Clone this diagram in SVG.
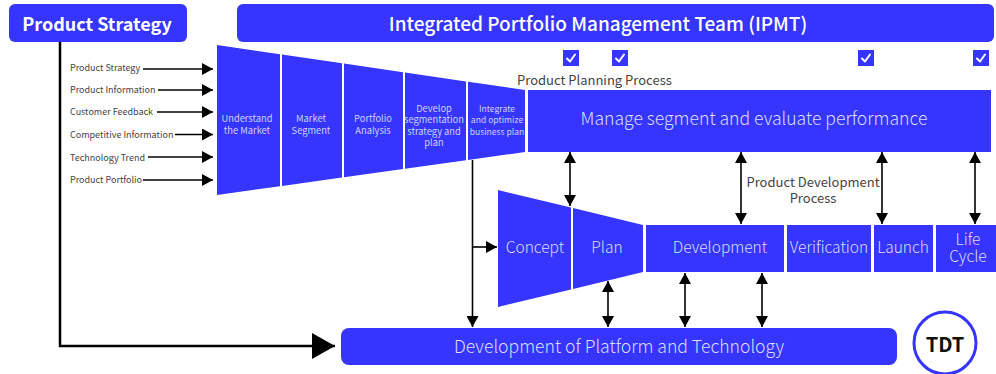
<svg xmlns="http://www.w3.org/2000/svg" width="996" height="374" viewBox="0 0 996 374">
<style>
text{font-family:'Noto Sans CJK SC','Noto Sans',sans-serif;}
.blue{fill:#3535fd;}
.title{fill:#ffffff;font-size:18px;font-weight:700;text-anchor:middle;dominant-baseline:central;}
.in{fill:#444;font-size:9px;dominant-baseline:central;}
.seg{fill:#cfcfff;font-size:9.3px;text-anchor:middle;dominant-baseline:central;}
.big{fill:#dcdcff;font-size:17.6px;font-weight:300;text-anchor:middle;dominant-baseline:central;}
.mid{fill:#dcdcff;font-size:15.5px;font-weight:300;text-anchor:middle;dominant-baseline:central;}
.lbl{fill:#444;font-size:13px;dominant-baseline:central;}
.ln{stroke:#000;stroke-width:1.6;fill:none;}
.ln2{stroke:#000;stroke-width:2.5;fill:none;}
.chk{stroke:#fff;stroke-width:2;fill:none;stroke-linecap:round;stroke-linejoin:round;}
</style>
<defs>
<marker id="ah" markerUnits="userSpaceOnUse" markerWidth="12" markerHeight="12" refX="11" refY="6" orient="auto-start-reverse"><path d="M0,0 L11,6 L0,12 z" fill="#000"/></marker>
<marker id="big" markerUnits="userSpaceOnUse" markerWidth="24" markerHeight="26" refX="23" refY="13" orient="auto"><path d="M0,0 L23,13 L0,26 z" fill="#000"/></marker>
</defs>

<g id="product-strategy">
<rect class="blue" x="9" y="4" width="178" height="38" rx="6"/>
<text class="title" x="97" y="22.5">Product Strategy</text>
</g>

<g id="ipmt">
<rect class="blue" x="237" y="4" width="757" height="38" rx="6"/>
<text class="title" x="598" y="22.5" style="font-weight:500;font-size:19px">Integrated Portfolio Management Team (IPMT)</text>
</g>

<g id="inputs">
<text class="in" x="70" y="67.5">Product Strategy</text>
<text class="in" x="70" y="89.5">Product Information</text>
<text class="in" x="70" y="111.5">Customer Feedback</text>
<text class="in" x="70" y="134">Competitive Information</text>
<text class="in" x="70" y="157">Technology Trend</text>
<text class="in" x="70" y="179.5">Product Portfolio</text>
</g>

<g id="planning-funnel">
<polygon class="blue" points="217,45 280,54.2 280,186.2 217,195"/>
<polygon class="blue" points="282,54.5 342,63.3 342,177.5 282,185.9"/>
<polygon class="blue" points="344,63.6 403,72.2 403,169 344,177.3"/>
<polygon class="blue" points="405,72.5 466,81.4 466,160.2 405,168.8"/>
<polygon class="blue" points="468,81.7 525,90 525,152 468,160"/>
<text class="seg" x="247" y="118">Understand</text>
<text class="seg" x="247" y="129.5">the Market</text>
<text class="seg" x="311" y="118">Market</text>
<text class="seg" x="311" y="129.5">Segment</text>
<text class="seg" x="373" y="118">Portfolio</text>
<text class="seg" x="373" y="129.5">Analysis</text>
<text class="seg" x="434" y="107.7">Develop</text>
<text class="seg" x="434" y="119.2">segmentation</text>
<text class="seg" x="434" y="130.7">strategy and</text>
<text class="seg" x="434" y="142">plan</text>
<text class="seg" x="497" y="107.7" style="font-size:8.6px">Integrate</text>
<text class="seg" x="497" y="119.2" style="font-size:8.6px">and optimize</text>
<text class="seg" x="497" y="130.5" style="font-size:8.6px">business plan</text>
</g>

<g id="manage-segment">
<rect class="blue" x="528" y="90" width="463" height="62"/>
<text class="big" x="754" y="117.5">Manage segment and evaluate performance</text>
</g>

<g id="checkmarks">
<rect class="blue" x="563" y="50" width="16" height="16"/>
<polyline class="chk" points="567,58.5 570,61.5 575,54.5"/>
<rect class="blue" x="612" y="50" width="16" height="16"/>
<polyline class="chk" points="616,58.5 619,61.5 624,54.5"/>
<rect class="blue" x="858" y="50" width="16" height="16"/>
<polyline class="chk" points="862,58.5 865,61.5 870,54.5"/>
<rect class="blue" x="973" y="50" width="16" height="16"/>
<polyline class="chk" points="977,58.5 980,61.5 985,54.5"/>
</g>

<g id="labels">
<text class="lbl" x="517" y="79">Product Planning Process</text>
<text class="lbl" x="813" y="181" text-anchor="middle">Product Development</text>
<text class="lbl" x="813" y="197" text-anchor="middle">Process</text>
</g>

<g id="concept-plan">
<polygon class="blue" points="498,190 571,207.6 571,289.4 498,307"/>
<polygon class="blue" points="573,208.1 643,225 643,272 573,288.9"/>
<text class="mid" x="535" y="245.5">Concept</text>
<text class="mid" x="607" y="245.5">Plan</text>
</g>

<g id="development">
<rect class="blue" x="646" y="225" width="138" height="47"/>
<text class="mid" x="720" y="245.5">Development</text>
</g>
<g id="verification">
<rect class="blue" x="787" y="225" width="84" height="47"/>
<text class="mid" x="829" y="245.5">Verification</text>
</g>
<g id="launch">
<rect class="blue" x="874" y="225" width="59" height="47"/>
<text class="mid" x="903" y="245.5">Launch</text>
</g>
<g id="life-cycle">
<rect class="blue" x="936" y="225" width="60" height="47"/>
<text class="mid" x="968" y="237.5">Life</text>
<text class="mid" x="968" y="254.5">Cycle</text>
</g>

<g id="platform">
<rect class="blue" x="341" y="328" width="556" height="37" rx="8"/>
<text class="big" x="619" y="345">Development of Platform and Technology</text>
</g>

<g id="tdt">
<circle cx="945" cy="343" r="31" fill="#fff" stroke="#3535fd" stroke-width="3"/>
<text x="945" y="343" text-anchor="middle" dominant-baseline="central" style="font-size:20px;font-weight:700;fill:#111">TDT</text>
</g>

<g id="connectors">
<line class="ln" x1="143" y1="69" x2="213" y2="69" marker-end="url(#ah)"/>
<line class="ln" x1="158" y1="90" x2="213" y2="90" marker-end="url(#ah)"/>
<line class="ln" x1="157" y1="112" x2="213" y2="112" marker-end="url(#ah)"/>
<line class="ln" x1="175" y1="134.5" x2="213" y2="134.5" marker-end="url(#ah)"/>
<line class="ln" x1="148" y1="157" x2="213" y2="157" marker-end="url(#ah)"/>
<line class="ln" x1="143" y1="180" x2="213" y2="180" marker-end="url(#ah)"/>
<polyline class="ln2" points="60,42 60,346 335,346" marker-end="url(#big)"/>
<line class="ln" x1="570" y1="152" x2="570" y2="206" marker-start="url(#ah)" marker-end="url(#ah)"/>
<line class="ln" x1="741" y1="152" x2="741" y2="224" marker-start="url(#ah)" marker-end="url(#ah)"/>
<line class="ln" x1="882" y1="152" x2="882" y2="224" marker-start="url(#ah)" marker-end="url(#ah)"/>
<line class="ln" x1="975" y1="152" x2="975" y2="224" marker-start="url(#ah)" marker-end="url(#ah)"/>
<line class="ln" x1="608" y1="281" x2="608" y2="327" marker-start="url(#ah)" marker-end="url(#ah)"/>
<line class="ln" x1="685" y1="273" x2="685" y2="327" marker-start="url(#ah)" marker-end="url(#ah)"/>
<line class="ln" x1="762" y1="273" x2="762" y2="327" marker-start="url(#ah)" marker-end="url(#ah)"/>
<line class="ln" x1="472.5" y1="160" x2="472.5" y2="327" marker-end="url(#ah)"/>
<line class="ln" x1="472.5" y1="247" x2="497" y2="247" marker-end="url(#ah)"/>
</g>
</svg>
